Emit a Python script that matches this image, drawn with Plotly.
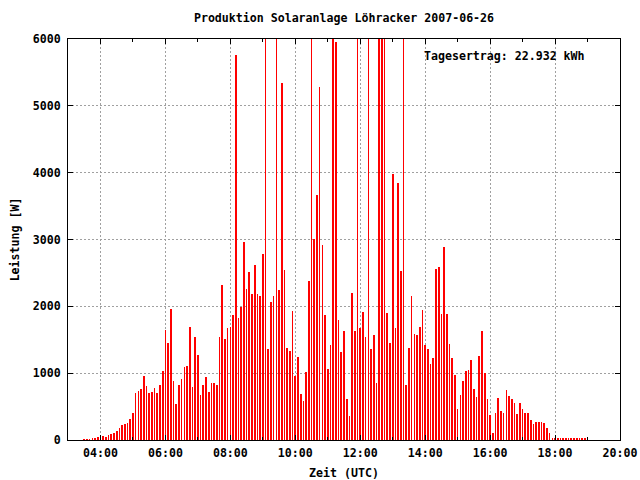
import pandas as pd
import plotly.graph_objects as go

# 5-minute samples starting 03:30 UTC
start_time = "2007-06-26 03:30"
n_samples = 186
times = pd.date_range(start=start_time, periods=n_samples, freq="5min")

# Power in W (bars above 6000 are clipped in the original chart)
power_w = [
    15, 15, 15, 30, 30, 40,
    50, 65, 50, 75, 90, 105,
    135, 185, 225, 240, 255, 315,
    405, 700, 730, 760, 955, 805,
    700, 715, 775, 700, 820, 1030,
    1640, 1450, 1965, 880, 540, 820,
    910, 1090, 1105, 1690, 790, 1540,
    1270, 670, 820, 940, 715, 850,
    850, 820, 1540, 2315, 1510, 1670,
    1690, 1865, 5760, 1820, 1985, 2970,
    2255, 2520, 2180, 2625, 2180, 2150,
    2790, 6800, 1360, 2060, 2150, 7000,
    2240, 5345, 2550, 1375, 1330, 1925,
    955, 1240, 685, 580, 1015, 2375,
    6600, 3015, 3670, 5285, 2925, 1865,
    1060, 1420, 6900, 5955, 1790, 1315,
    1625, 610, 360, 2195, 1625, 7100,
    1670, 1910, 1540, 6700, 1360, 1565,
    850, 6400, 7300, 6500, 1895, 1450,
    3985, 1670, 3850, 2535, 6800, 820,
    1375, 2150, 1580, 1565, 1685, 1940,
    1420, 1360, 1135, 1225, 2565, 2595,
    1880, 2895, 1880, 1430, 1225, 970,
    465, 670, 880, 1030, 1045, 1195,
    760, 640, 1255, 1625, 1000, 610,
    375, 105, 405, 625, 435, 405,
    745, 655, 610, 550, 390, 550,
    465, 405, 405, 300, 240, 270,
    270, 270, 255, 180, 105, 20,
    20, 20, 20, 20, 35, 20,
    20, 20, 20, 20, 20, 20,
]

title_text = "Produktion Solaranlage Löhracker 2007-06-26"
x_title = "Zeit (UTC)"
y_title = "Leistung [W]"
total_text = "Tagesertrag: 22.932 kWh"

FONT = dict(family="DejaVu Sans Mono", size=11.6, color="black", weight="bold")

fig = go.Figure()
fig.add_trace(go.Bar(
    x=times, y=power_w[:n_samples],
    width=75000,
    marker=dict(color="#ff0000", line=dict(width=0)),
    showlegend=False,
))

grid = dict(showgrid=True, gridcolor="#a0a0a0", griddash="2px,2px", gridwidth=1)

fig.update_layout(
    width=640, height=480,
    margin=dict(l=68, r=20, t=39, b=40),
    paper_bgcolor="white", plot_bgcolor="white",
    font=FONT,
    bargap=0,
    title=dict(text=title_text, x=0.5, xref="paper", y=1 - 18 / 480,
               yref="container", yanchor="middle", xanchor="center", font=FONT),
    xaxis=dict(
        type="date", automargin=False,
        range=["2007-06-26 03:00", "2007-06-26 20:00"],
        tick0="2007-06-26 04:00", dtick=7200000, tickformat="%H:%M",
        ticks="inside", ticklen=5, tickcolor="black", ticklabelstandoff=2,
        showline=True, linecolor="black", linewidth=1, mirror="allticks",
        zeroline=False,
        minor=dict(dtick=3600000, tick0="2007-06-26 03:00", ticks="inside",
                   ticklen=3, tickcolor="black", showgrid=False),
        title=dict(text=x_title, standoff=10, font=FONT),
        **grid,
    ),
    yaxis=dict(
        automargin=False,
        range=[0, 6000], dtick=1000,
        ticks="inside", ticklen=5, tickcolor="black", ticklabelstandoff=4,
        showline=True, linecolor="black", linewidth=1, mirror="allticks",
        zeroline=False,
        title=dict(text=y_title, standoff=10, font=FONT),
        **grid,
    ),
    annotations=[dict(
        text=total_text, xref="paper", yref="paper",
        x=(587 - 68) / 552, y=(440 - 56) / 401,
        xanchor="right", yanchor="middle", showarrow=False, font=FONT,
    )],
)

fig.write_html("out.html", config={"displayModeBar": False},
               post_script="document.body.style.margin='0px';document.body.style.overflow='hidden';")
